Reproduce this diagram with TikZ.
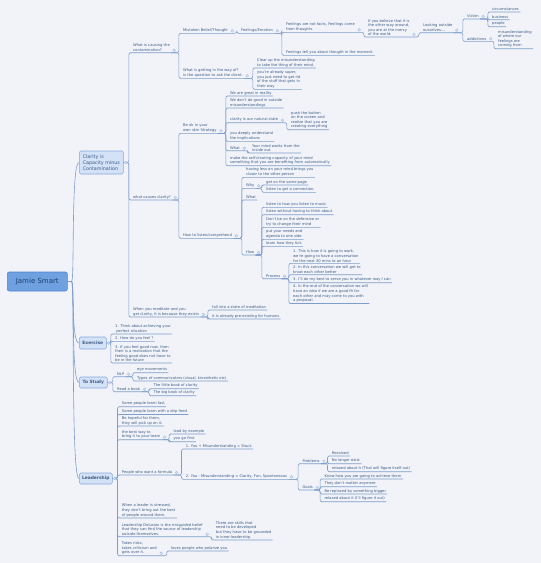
\documentclass[tikz,border=0pt]{standalone}
\usepackage{fontspec}
\setmainfont{DejaVu Sans}
\usetikzlibrary{calc}
\definecolor{bg}{HTML}{F1F3F9}
\definecolor{ln}{HTML}{7F9DCA}
\definecolor{txt}{HTML}{3D5C86}
\definecolor{boxf}{HTML}{D4E2F8}
\definecolor{boxd}{HTML}{86A8DC}
\definecolor{rootf}{HTML}{6FA1E0}
\definecolor{rootd}{HTML}{4C84D0}
\definecolor{roott}{HTML}{1E3E6C}
\definecolor{mkf}{HTML}{DCE6F6}
\definecolor{mkd}{HTML}{A7BFE4}
\newcommand\tfnt{\fontsize{3.7}{4.6}\selectfont}
\newcommand\lnk[2]{\draw[conn] let \p1=(#1.south east), \p2=(#2.south west) in (\p1) -- (\x2-3pt,\y1) -- (\x2-3pt,\y2) -- (\p2) -- (#2.south east);}
\newcommand\blnk[2]{\draw[conn] let \p1=(#1.east), \p2=(#2.south west) in (\p1) -- (\x2-3pt,\y1) -- (\x2-3pt,\y2) -- (\p2) -- (#2.south east);}
\newcommand\mkr[1]{\draw[mk] ($(#1.south east)+(3,-2.5)$) circle (1.4pt);}
\newcommand\bmkr[1]{\draw[mk] ($(#1.east)+(2,0)$) circle (1.4pt);}
\newcommand\rlnk[1]{\draw[conn] (root.east) -- ++(2,0) .. controls +(5,0) and +(-8,0) .. (#1.west);}
\begin{document}
\begin{tikzpicture}[x=1pt,y=-1pt,
 t/.style={anchor=south west,xshift=-1.2pt,inner xsep=1.2pt,inner ysep=0.9pt,align=left,font=\tfnt,text=txt},
 conn/.style={draw=ln,line width=0.6pt,rounded corners=2pt},
 mainbox/.style={anchor=west,draw=boxd,fill=boxf,rounded corners=1.5pt,line width=0.6pt,text=txt,inner sep=1pt,align=left},
 mk/.style={draw=mkd,fill=mkf,line width=0.4pt}]
\useasboundingbox (0,0) rectangle (541,563);
\fill[bg] (0,0) rectangle (541,563);

% root and main boxes
\node[anchor=west,draw=rootd,fill=rootf,rounded corners=2pt,line width=0.6pt,minimum width=60pt,minimum height=19pt,text=roott,font=\fontsize{7}{8}\selectfont,inner sep=1pt] (root) at (7,281.5) {Jamie Smart};
\node[mainbox,minimum width=44pt,minimum height=23pt,font=\fontsize{4.8}{6}\selectfont] (clar) at (79,162.5) {Clarity is\\Capacity minus\\Contamination};
\node[mainbox,minimum width=27pt,minimum height=12pt,font=\fontsize{4.4}{5.4}\selectfont\bfseries,align=center] (ex) at (79,343) {Exercise};
\node[mainbox,minimum width=28pt,minimum height=11pt,font=\fontsize{4.4}{5.4}\selectfont\bfseries,align=center] (ts) at (79,382.5) {To Study};
\node[mainbox,minimum width=33pt,minimum height=11pt,font=\fontsize{4.4}{5.4}\selectfont\bfseries,align=center] (ld) at (79,478.5) {Leadership};

% Clarity branch
\node[t] (c1) at (133,52.7) {What is causing the\\contamination?};
\node[t] (mb) at (183,33.3) {Mistaken Belief/Thought};
\node[t] (fe) at (241,33.3) {Feelings/Emotion};
\node[t] (fnf) at (286,32.3) {Feelings are not facts, Feelings come\\from thoughts};
\node[t] (ftl) at (286,55.3) {Feelings tell you about thought in the moment.};
\node[t] (ib) at (368,37) {If you believe that it is\\the other way around,\\you are at the mercy\\of the world.};
\node[t] (lo) at (423,32.7) {Looking outside\\ourselves....};
\node[t] (vi) at (467,19) {Victim};
\node[t] (ad) at (467,41.3) {addictions};
\node[t] (ci) at (492,12) {circumstances};
\node[t] (bu) at (492,19.7) {business};
\node[t] (pe) at (492,26.7) {people};
\node[t] (mi) at (498,48.7) {misunderstanding\\of where our\\feelings are\\coming from};
\node[t] (wg) at (183,78.3) {What is getting in the way of?\\is the question to ask the client.};
\node[t] (cu) at (257,68) {Clear up the misunderstanding\\to take the thing of their mind.};
\node[t] (ys) at (257,89.3) {you're already super,\\you just need to get rid\\of the stuff that gets in\\their way};

\node[t] (c2) at (133,200) {what causes clarity?};
\node[t] (bo) at (183,133.3) {Be ok in your\\own skin Strategy};
\node[t] (b1) at (230,96) {We are great in reality};
\node[t] (b2) at (230,108) {We don't do good in outside\\misunderstandings};
\node[t] (b3) at (230,122.7) {clarity is our natural state};
\node[t] (b3a) at (291,129.7) {push the button\\on the screen and\\realize that you are\\creating everything};
\node[t] (b4) at (230,141.3) {you deeply understand\\the implications};
\node[t] (b5) at (230,150.7) {What};
\node[t] (b5a) at (252,153) {Your mind works from the\\inside out.};
\node[t] (b6) at (230,165.7) {make the self-clearing capacity of your mind\\something that you are benefiting from automatically};
\node[t] (hl) at (183,238.3) {How to listen/comprehend};
\node[t] (h1) at (246,177.3) {having less on your mind brings you\\closer to the other person};
\node[t] (hwhy) at (246,188.3) {Why};
\node[t] (hy1) at (266,185) {get on the same page};
\node[t] (hy2) at (266,192.3) {listen to get a connection.};
\node[t] (hwhat) at (246,200) {What};
\node[t] (hhow) at (246,255) {How};
\node[t] (hw1) at (266,207.3) {listen to how you listen to music};
\node[t] (hw2) at (266,214.7) {listen without having to think about};
\node[t] (hw3) at (266,227.3) {Don't be on the defensive or\\try to change their mind};
\node[t] (hw4) at (266,239.3) {put your needs and\\agenda to one side};
\node[t] (hw5) at (266,246.3) {learn how they tick};
\node[t] (pr) at (266,278.7) {Process};
\node[t] (p1) at (293,263.3) {1. This is how it is going to work.\\we're going to have a conversation\\for the next 30 mins to an hour};
\node[t] (p2) at (293,274.7) {2. In this conversation we will get to\\know each other better};
\node[t] (p3) at (293,282.7) {3. I'll do my best to serve you in whatever way I can};
\node[t] (p4) at (293,303.5) {4. In the end of the conversation we will\\have an idea if we are a good fit for\\each other and may come to you with\\a proposal.};

\node[t] (c3) at (133,317) {When you meditate and you\\get clarity, it is because they exists};
\node[t] (m1) at (212,310) {fall into a state of meditation};
\node[t] (m2) at (212,319) {it is already pre-existing for humans};

% Exercise
\node[t] (e1) at (115,334) {1. Think about achieving your\\\ perfect situation};
\node[t] (e2) at (115,341.3) {2. How do you feel ?};
\node[t] (e3) at (115,363) {3. If you feel good now, then\\their is a realization that the\\feeling good does not have to\\be in the future};

% To Study
\node[t] (nlp) at (117,376.7) {NLP};
\node[t] (n1) at (137,372.7) {eye movements};
\node[t] (n2) at (137,381) {Types of communicators (visual, kinesthetic etc)};
\node[t] (rb) at (117,391.7) {Read a book};
\node[t] (r1) at (153.3,388.7) {The little book of clarity};
\node[t] (r2) at (153.3,395.7) {The big book of clarity};

% Leadership
\node[t] (l1) at (121.7,406.7) {Some people learn fast};
\node[t] (l2) at (121.7,414.5) {Some people learn with a drip feed};
\node[t] (l3) at (121.7,426) {Be hopeful for them,\\they will pick up on it.};
\node[t] (l4) at (121.7,439.7) {the best way to\\bring it to your team};
\node[t] (l4a) at (173.3,434) {lead by example};
\node[t] (l4b) at (173.3,441.7) {you go first};
\node[t] (l5) at (121.7,475) {People who want a formula};
\node[t] (f1) at (185.7,449) {1. You + Misunderstanding = Stuck};
\node[t] (f2) at (185.7,479.3) {2. You - Misunderstanding = Clarity, Fun, Spontaneous};
\node[t] (pb) at (302.3,463.7) {Problems};
\node[t] (pb1) at (331.7,456) {Resolved};
\node[t] (pb2) at (331.7,463.7) {No longer exist};
\node[t] (pb3) at (331.7,471.7) {relaxed about it (That will figure itself out)};
\node[t] (go) at (302.3,490) {Goals};
\node[t] (g1) at (324.3,479) {Know how you are going to achieve them};
\node[t] (g2) at (324.3,486.7) {They don't matter anymore};
\node[t] (g3) at (324.3,494) {Be replaced by something bigger};
\node[t] (g4) at (324.3,501.7) {relaxed about it (I'll figure it out)};
\node[t] (l6) at (121.7,518) {When a leader is stressed,\\they don't bring out the best\\of people around them.};
\node[t] (l7) at (121.7,536.7) {Leadership Delusion is the misguided belief\\that they can find the source of leadership\\outside themselves.};
\node[t] (l7a) at (215.7,540) {There are skills that\\need to be developed\\but they have to be grounded\\in inner-leadership};
\node[t] (l8) at (121.7,555.7) {Takes risks,\\takes criticism and\\gets over it.};
\node[t] (l8a) at (171,551) {loves people who polarize you};

% connectors
\rlnk{clar} \rlnk{ex} \rlnk{ts} \rlnk{ld}
\blnk{clar}{c1} \blnk{clar}{c2} \blnk{clar}{c3}
\lnk{c1}{mb} \lnk{c1}{wg}
\lnk{mb}{fe}
\lnk{fe}{fnf} \lnk{fe}{ftl}
\lnk{fnf}{ib} \lnk{ib}{lo}
\lnk{lo}{vi} \lnk{lo}{ad}
\lnk{vi}{ci} \lnk{vi}{bu} \lnk{vi}{pe}
\lnk{ad}{mi}
\lnk{wg}{cu} \lnk{wg}{ys}
\lnk{c2}{bo} \lnk{c2}{hl}
\lnk{bo}{b1} \lnk{bo}{b2} \lnk{bo}{b3} \lnk{bo}{b4} \lnk{bo}{b5} \lnk{bo}{b6}
\lnk{b3}{b3a} \lnk{b5}{b5a}
\lnk{hl}{h1} \lnk{hl}{hwhy} \lnk{hl}{hwhat} \lnk{hl}{hhow}
\lnk{hwhy}{hy1} \lnk{hwhy}{hy2}
\lnk{hhow}{hw1} \lnk{hhow}{hw2} \lnk{hhow}{hw3} \lnk{hhow}{hw4} \lnk{hhow}{hw5} \lnk{hhow}{pr}
\lnk{pr}{p1} \lnk{pr}{p2} \lnk{pr}{p3} \lnk{pr}{p4}
\lnk{c3}{m1} \lnk{c3}{m2}
\blnk{ex}{e1} \blnk{ex}{e2} \blnk{ex}{e3}
\blnk{ts}{nlp} \blnk{ts}{rb}
\lnk{nlp}{n1} \lnk{nlp}{n2}
\lnk{rb}{r1} \lnk{rb}{r2}
\blnk{ld}{l1} \blnk{ld}{l2} \blnk{ld}{l3} \blnk{ld}{l4} \blnk{ld}{l5} \blnk{ld}{l6} \blnk{ld}{l7} \blnk{ld}{l8}
\lnk{l4}{l4a} \lnk{l4}{l4b}
\lnk{l5}{f1} \lnk{l5}{f2}
\lnk{f2}{pb} \lnk{f2}{go}
\lnk{pb}{pb1} \lnk{pb}{pb2} \lnk{pb}{pb3}
\lnk{go}{g1} \lnk{go}{g2} \lnk{go}{g3} \lnk{go}{g4}
\lnk{l7}{l7a}
\lnk{l8}{l8a}

% collapse markers
\bmkr{clar} \bmkr{ex} \bmkr{ts} \bmkr{ld}
\mkr{c1} \mkr{mb} \mkr{fe} \mkr{fnf} \mkr{ib} \mkr{lo} \mkr{vi} \mkr{ad} \mkr{wg}
\mkr{c2} \mkr{bo} \mkr{b3} \mkr{b5} \mkr{hl} \mkr{hwhy} \mkr{hhow} \mkr{pr} \mkr{c3}
\mkr{nlp} \mkr{rb} \mkr{l4} \mkr{l5} \mkr{f2} \mkr{pb} \mkr{go} \mkr{l7} \mkr{l8}
\end{tikzpicture}
\end{document}
